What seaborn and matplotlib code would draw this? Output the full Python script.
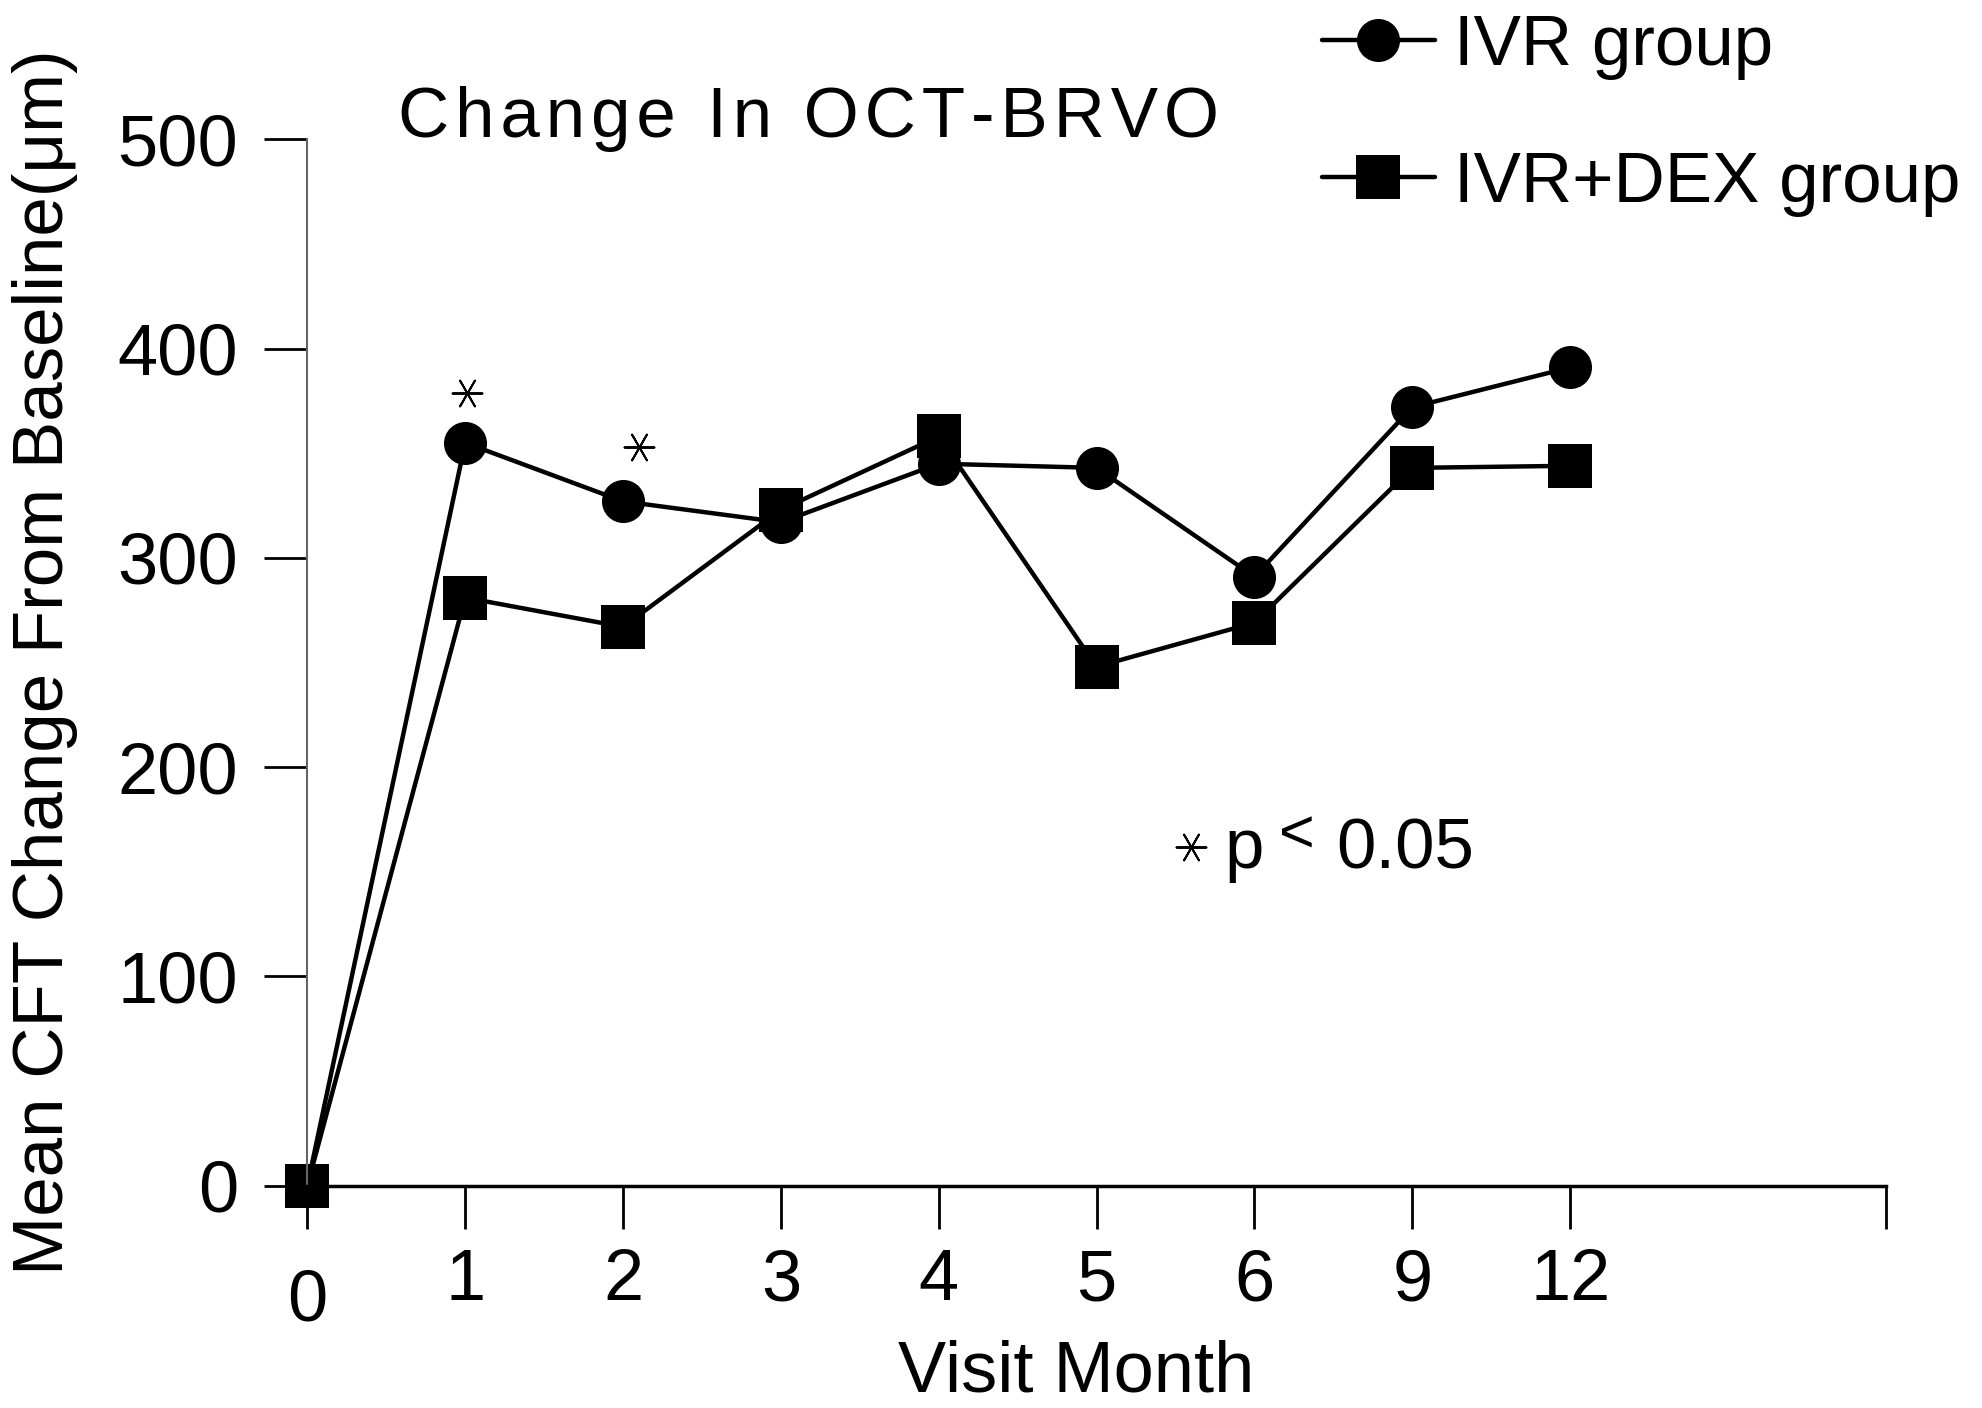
import numpy as np
import pandas as pd
import seaborn as sns
import matplotlib.pyplot as plt
import matplotlib.transforms as mtransforms
from matplotlib.lines import Line2D

# data
months = ['0', '1', '2', '3', '4', '5', '6', '9', '12']
ivr = [0, 355, 327, 317, 345, 343, 291, 372, 391]
ivr_dex = [0, 281, 267, 323, 358, 248, 269, 343, 344]
groups = ['IVR group', 'IVR+DEX group']
sig_x = [1.01, 2.1]
sig_y = [379, 353]
yticks = [0, 100, 200, 300, 400, 500]

pos = np.arange(len(months))
df = pd.DataFrame({
    'pos': np.tile(pos, 2),
    'cft': ivr + ivr_dex,
    'group': np.repeat(groups, len(months)),
})

sns.set_theme(style='white')
plt.rcParams['font.family'] = ['Liberation Sans', 'DejaVu Sans']
plt.rcParams['text.color'] = 'black'
plt.rcParams['axes.labelcolor'] = 'black'
plt.rcParams['xtick.color'] = 'black'
plt.rcParams['ytick.color'] = 'black'

fig = plt.figure(figsize=(19.83, 14.08), dpi=100)
ax = fig.add_axes([0.155, 0.158, 0.796, 0.743])

sns.lineplot(data=df, x='pos', y='cft', hue='group', style='group',
             markers={'IVR group': 'o', 'IVR+DEX group': 's'}, dashes=False,
             palette=['black', 'black'], markersize=31, linewidth=3.2,
             markeredgewidth=0, legend=False, ax=ax)
for ln in ax.lines:
    ln.set_clip_on(False)
ax.lines[1].set_markersize(32)

# significance stars
star = (6, 2, 90)
ax.scatter(sig_x, sig_y, marker=star, s=460, color='black', linewidths=1.4)

# p < 0.05 note
ax.scatter([5.60], [162], marker=star, s=460, color='black', linewidths=1.4)
ax.text(5.81, 151.7, 'p', fontsize=51, va='baseline', ha='left')
ax.text(6.27, 159, '<', fontsize=44, va='baseline', ha='center')
ax.text(6.52, 151.7, '0.05', fontsize=51, va='baseline', ha='left')

ax.set_xlim(0, 10)
ax.set_ylim(0, 500)
ax.set_xticks(list(pos) + [10])
ax.set_xticklabels(months + [''])
ax.set_yticks(yticks)
ax.set_yticklabels([str(v) for v in yticks])

sns.despine(ax=ax)
ax.spines['left'].set_color('#666666')
ax.spines['left'].set_linewidth(1.5)
ax.spines['bottom'].set_color('black')
ax.spines['bottom'].set_linewidth(2.5)
ax.tick_params(axis='both', which='major', direction='out', length=31, width=2,
               color='black', labelsize=52, bottom=True, left=True)
ax.tick_params(axis='x', pad=14)
ax.tick_params(axis='y', pad=19)

lab0 = ax.get_xticklabels()[0]
lab0.set_transform(lab0.get_transform() +
                   mtransforms.ScaledTranslation(0, -0.2, fig.dpi_scale_trans))

ax.set_xlabel('Visit Month', fontsize=52, labelpad=3)
ax.xaxis.label.set_x(0.487)
ax.set_ylabel('Mean CFT Change From Baseline(\u03bcm)', fontsize=51, labelpad=28)

# letter-spaced title
title = '\u200a'.join('Change In OCT-BRVO')
fig.text(0.2007, 0.9027, title, fontsize=51, va='baseline', ha='left')

handles = [Line2D([], [], color='black', marker='o', markersize=31, lw=3.2, markeredgewidth=0),
           Line2D([], [], color='black', marker='s', markersize=32, lw=3.2, markeredgewidth=0)]
fig.legend(handles, groups, loc='upper left', bbox_to_anchor=(0.6665, 0.99),
           frameon=False, fontsize=51, handlelength=1.6, handletextpad=0.27,
           labelspacing=1.0, borderpad=0, borderaxespad=0)

fig.savefig('out.png', dpi=100, facecolor='white')
